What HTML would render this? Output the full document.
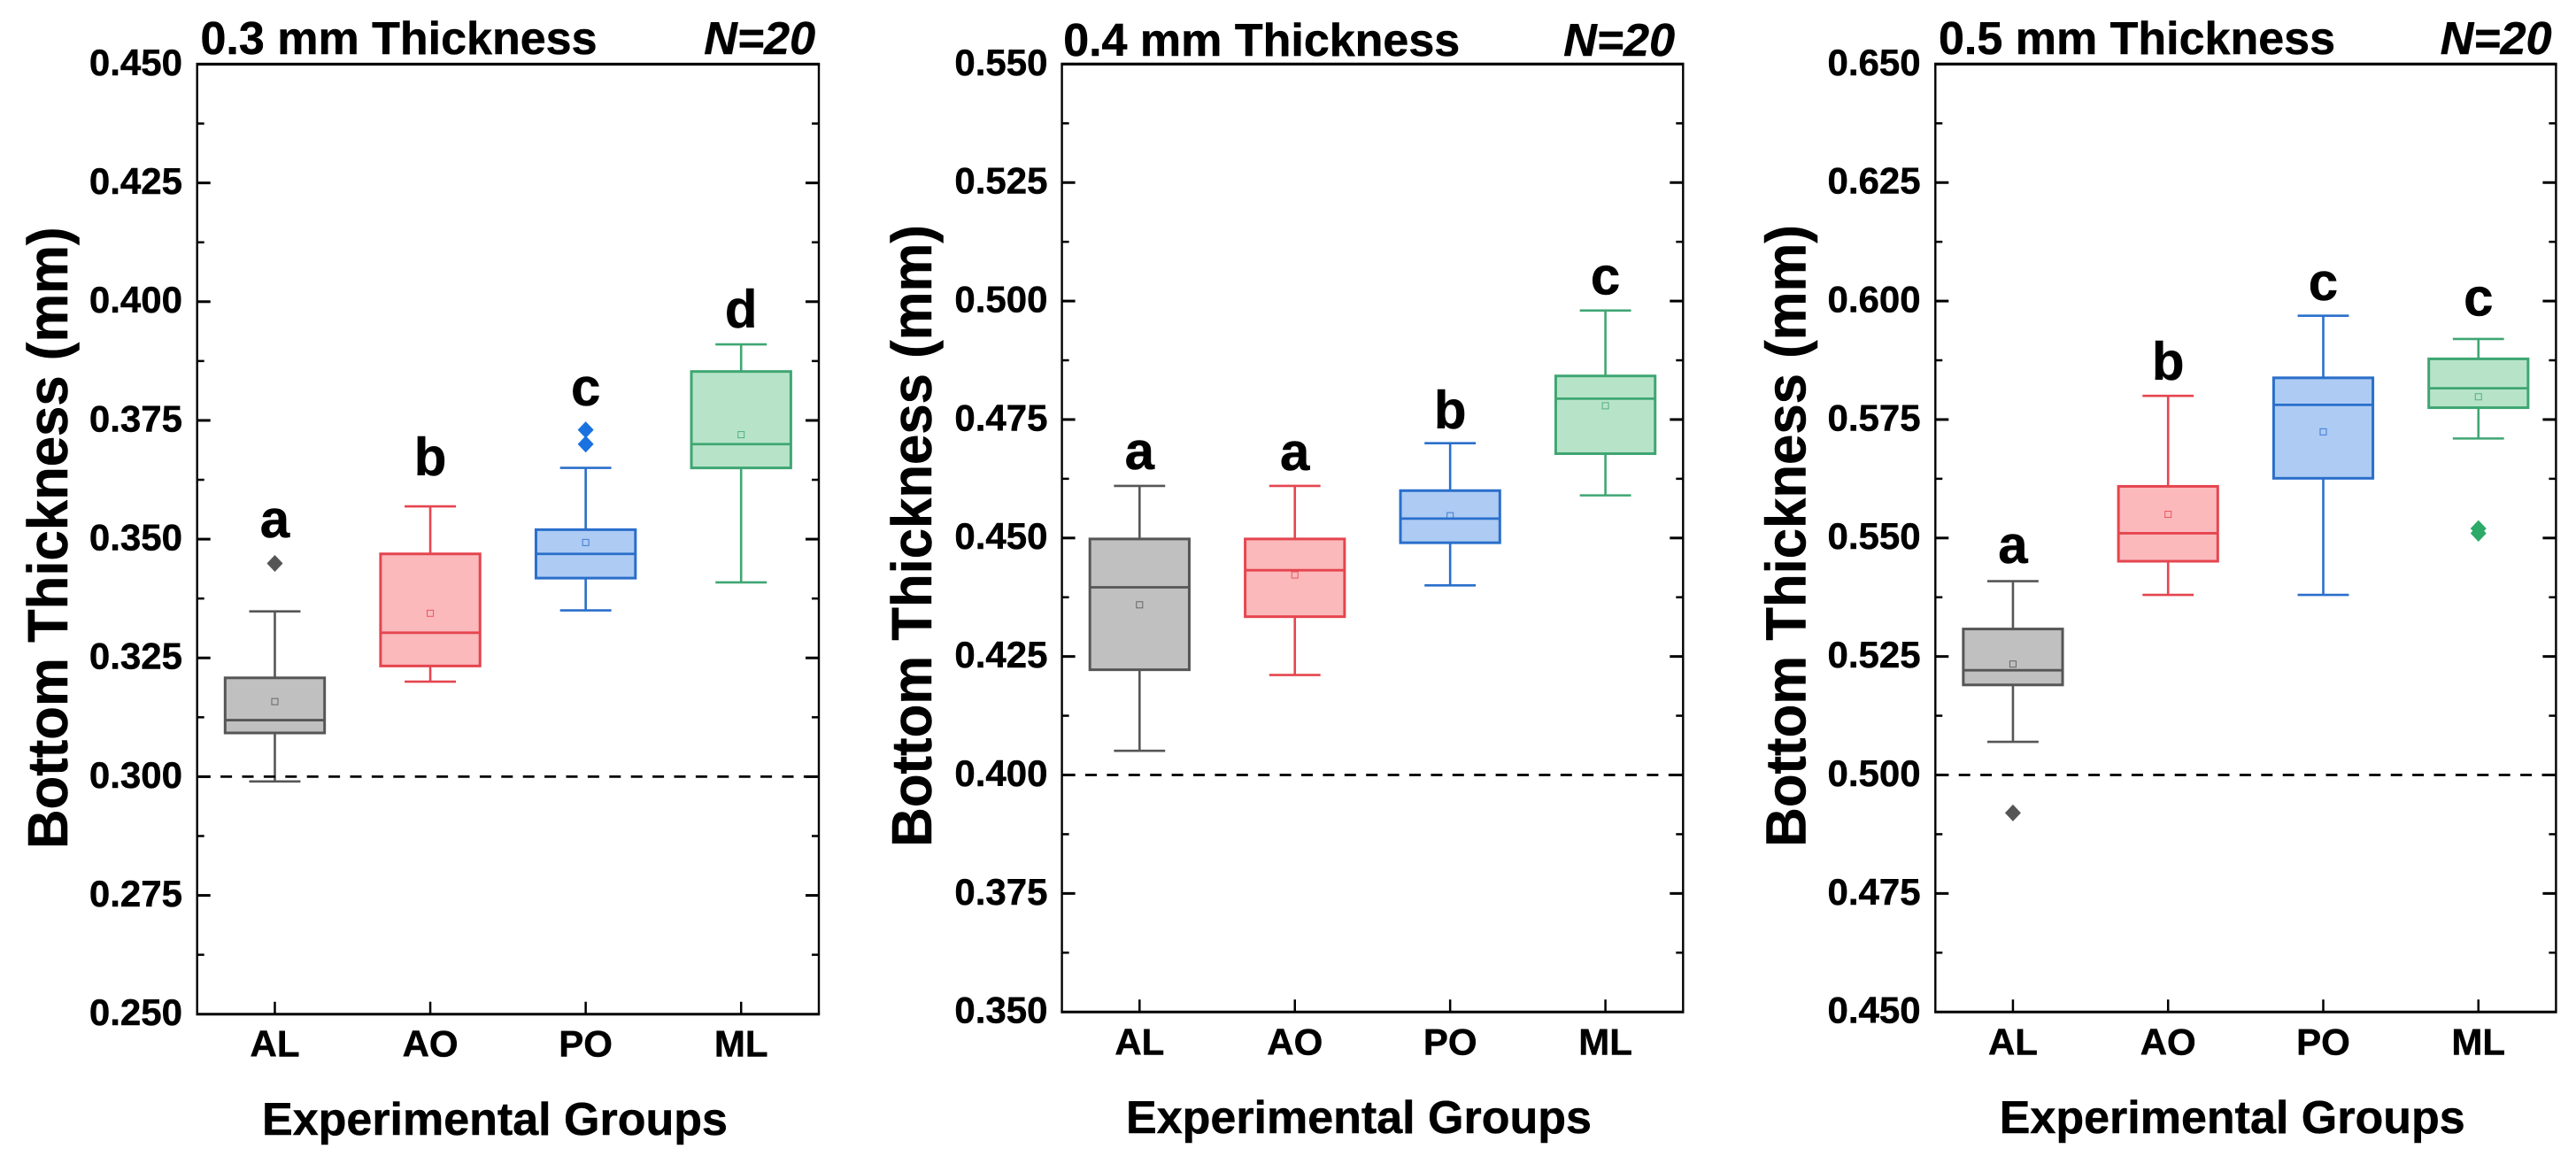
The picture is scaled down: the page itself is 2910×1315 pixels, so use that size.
<!DOCTYPE html>
<html>
<head>
<meta charset="utf-8">
<title>Bottom Thickness Box Plots</title>
<style>
html,body{margin:0;padding:0;background:#fff;width:2910px;height:1315px;overflow:hidden}
svg{display:block}
text{font-family:"Liberation Sans",Arial,sans-serif;font-weight:700;fill:#000;stroke:#000;stroke-width:0.5px}
</style>
</head>
<body>
<svg id="chart" xmlns="http://www.w3.org/2000/svg" width="2910" height="1315" viewBox="0 0 2910 1315"></svg>
<script>
const categories = ['AL', 'AO', 'PO', 'ML'];

const titles = ['0.3 mm Thickness', '0.4 mm Thickness', '0.5 mm Thickness'];
const sampleLabel = 'N=20';
const yAxisTitle = 'Bottom Thickness (mm)';
const xAxisTitle = 'Experimental Groups';

const p1Ticks = ['0.250', '0.275', '0.300', '0.325', '0.350', '0.375', '0.400', '0.425', '0.450'];
const p2Ticks = ['0.350', '0.375', '0.400', '0.425', '0.450', '0.475', '0.500', '0.525', '0.550'];
const p3Ticks = ['0.450', '0.475', '0.500', '0.525', '0.550', '0.575', '0.600', '0.625', '0.650'];

const thresholds = [0.3, 0.4, 0.5];

const p1WhiskerLow = [0.2990, 0.3200, 0.3350, 0.3409];
const p1Q1 = [0.3092, 0.3233, 0.3418, 0.3650];
const p1Median = [0.3119, 0.3303, 0.3469, 0.3700];
const p1Q3 = [0.3208, 0.3469, 0.3520, 0.3853];
const p1WhiskerHigh = [0.3348, 0.3569, 0.3650, 0.3910];
const p1Mean = [0.3158, 0.3344, 0.3493, 0.3720];
const p1Outliers = [[0.3449], [], [0.3700, 0.3730], []];
const p1Letters = ['a', 'b', 'c', 'd'];
const p1LetterValues = [0.3504, 0.3634, 0.3782, 0.3946];

const p2WhiskerLow = [0.4051, 0.4211, 0.4400, 0.4590];
const p2Q1 = [0.4222, 0.4334, 0.4490, 0.4678];
const p2Median = [0.4396, 0.4432, 0.4541, 0.4794];
const p2Q3 = [0.4498, 0.4498, 0.4600, 0.4842];
const p2WhiskerHigh = [0.4610, 0.4610, 0.4700, 0.4980];
const p2Mean = [0.4359, 0.4422, 0.4547, 0.4779];
const p2Outliers = [[], [], [], []];
const p2Letters = ['a', 'a', 'b', 'c'];
const p2LetterValues = [0.4645, 0.4643, 0.4731, 0.5014];

const p3WhiskerLow = [0.5070, 0.5380, 0.5380, 0.5710];
const p3Q1 = [0.5190, 0.5451, 0.5626, 0.5775];
const p3Median = [0.5221, 0.5510, 0.5781, 0.5816];
const p3Q3 = [0.5308, 0.5609, 0.5838, 0.5878];
const p3WhiskerHigh = [0.5409, 0.5800, 0.5969, 0.5920];
const p3Mean = [0.5234, 0.5550, 0.5724, 0.5798];
const p3Outliers = [[0.4920], [], [], [0.5510, 0.5520]];
const p3Letters = ['a', 'b', 'c', 'c'];
const p3LetterValues = [0.5447, 0.5834, 0.6002, 0.5969];

const strokeColors = ['#565656', '#e5454f', '#2a6fcb', '#3fa673'];
const fillColors = ['#c0c0c0', '#fbb9bc', '#adcbf3', '#b7e4c9'];
const outlierColors = ['#555555', '#e5454f', '#1a72e0', '#2eaa68'];

const seriesByPanel = [
  {ticks: p1Ticks, lo: p1WhiskerLow, q1: p1Q1, med: p1Median, q3: p1Q3, hi: p1WhiskerHigh, mean: p1Mean, out: p1Outliers, letters: p1Letters, letterVals: p1LetterValues},
  {ticks: p2Ticks, lo: p2WhiskerLow, q1: p2Q1, med: p2Median, q3: p2Q3, hi: p2WhiskerHigh, mean: p2Mean, out: p2Outliers, letters: p2Letters, letterVals: p2LetterValues},
  {ticks: p3Ticks, lo: p3WhiskerLow, q1: p3Q1, med: p3Median, q3: p3Q3, hi: p3WhiskerHigh, mean: p3Mean, out: p3Outliers, letters: p3Letters, letterVals: p3LetterValues}
];

const layouts = [
  {left: 222.7, right: 925, top: 72.5, bottom: 1145.7, labelRight: 206, titleX: 226.5, titleY: 61, nRight: 921, yTitleX: 76, yTitleY: 959, xTickY: 1193.7, xTitleX: 559, xTitleY: 1282},
  {left: 1199.6, right: 1901.3, top: 72.4, bottom: 1143.2, labelRight: 1183.5, titleX: 1201.2, titleY: 63, nRight: 1892, yTitleX: 1052.2, yTitleY: 956.7, xTickY: 1191.6, xTitleX: 1535, xTitleY: 1280},
  {left: 2186.3, right: 2887.4, top: 72.4, bottom: 1143.2, labelRight: 2169.6, titleX: 2190, titleY: 61, nRight: 2882.5, yTitleX: 2039.6, yTitleY: 956.7, xTickY: 1191.6, xTitleX: 2521.7, xTitleY: 1280}
];

const SVG_NS = 'http://www.w3.org/2000/svg';
const root = document.getElementById('chart');

function mk(parent, tag, attrs, txt) {
  const e = document.createElementNS(SVG_NS, tag);
  for (const k in attrs) e.setAttribute(k, attrs[k]);
  if (txt !== undefined) e.textContent = txt;
  parent.appendChild(e);
  return e;
}

seriesByPanel.forEach(function (s, pi) {
  const L = layouts[pi];
  const pid = 'panel-' + (pi + 1);
  const yMin = parseFloat(s.ticks[0]);
  const yMax = parseFloat(s.ticks[s.ticks.length - 1]);
  const yScale = function (v) { return L.bottom - (v - yMin) / (yMax - yMin) * (L.bottom - L.top); };
  const xScale = function (i) { return L.left + (i + 0.5) / categories.length * (L.right - L.left); };
  const unit = (L.right - L.left) / categories.length;
  const boxW = unit * 0.64;
  const capW = unit * 0.33;

  const g = mk(root, 'g', {});
  
  

  const t = mk(g, 'text', {x: L.titleX, y: L.titleY, 'font-size': 52}, titles[pi]);
  
  

  const n = mk(g, 'text', {x: L.nRight, y: L.titleY, 'font-size': 52, 'font-style': 'italic', 'text-anchor': 'end'}, sampleLabel);
  
  

  const yt = mk(g, 'text', {transform: 'translate(' + L.yTitleX + ',' + L.yTitleY + ') rotate(-90) scale(0.964,1)', 'font-size': 64}, yAxisTitle);
  
  

  const xt = mk(g, 'text', {x: L.xTitleX, y: L.xTitleY, 'font-size': 52, 'text-anchor': 'middle'}, xAxisTitle);
  
  

  s.ticks.forEach(function (label, i) {
    const v = parseFloat(label);
    const y = yScale(v);
    const tl = mk(g, 'text', {x: L.labelRight, y: y + 12.4, 'font-size': 42, 'text-anchor': 'end'}, label);
    
    
    if (i > 0 && i < s.ticks.length - 1) {
      const a = mk(g, 'line', {x1: L.left, x2: L.left + 15, y1: y, y2: y, stroke: '#000', 'stroke-width': 3});
      
      
      const b = mk(g, 'line', {x1: L.right - 15, x2: L.right, y1: y, y2: y, stroke: '#000', 'stroke-width': 3});
      
      
    }
    if (i < s.ticks.length - 1) {
      const my = yScale((v + parseFloat(s.ticks[i + 1])) / 2);
      const c = mk(g, 'line', {x1: L.left, x2: L.left + 8, y1: my, y2: my, stroke: '#000', 'stroke-width': 2.5});
      
      
      const d = mk(g, 'line', {x1: L.right - 8, x2: L.right, y1: my, y2: my, stroke: '#000', 'stroke-width': 2.5});
      
      
    }
  });

  categories.forEach(function (cat, i) {
    const cx = xScale(i);
    const name = pid + '-' + cat.toLowerCase();
    const tick = mk(g, 'line', {x1: cx, x2: cx, y1: L.bottom - 14, y2: L.bottom, stroke: '#000', 'stroke-width': 2.5});
    
    
    const lab = mk(g, 'text', {x: cx, y: L.xTickY, 'font-size': 42, 'text-anchor': 'middle'}, cat);
    
    

    const col = strokeColors[i];
    const whisk = mk(g, 'line', {x1: cx, x2: cx, y1: yScale(s.lo[i]), y2: yScale(s.hi[i]), stroke: col, 'stroke-width': 2.6});
    
    
    const capH = mk(g, 'line', {x1: cx - capW / 2, x2: cx + capW / 2, y1: yScale(s.hi[i]), y2: yScale(s.hi[i]), stroke: col, 'stroke-width': 2.6});
    
    
    const capL = mk(g, 'line', {x1: cx - capW / 2, x2: cx + capW / 2, y1: yScale(s.lo[i]), y2: yScale(s.lo[i]), stroke: col, 'stroke-width': 2.6});
    
    

    const box = mk(g, 'rect', {x: cx - boxW / 2, y: yScale(s.q3[i]), width: boxW, height: yScale(s.q1[i]) - yScale(s.q3[i]), fill: fillColors[i], stroke: col, 'stroke-width': 3});
    
    
    const med = mk(g, 'line', {x1: cx - boxW / 2, x2: cx + boxW / 2, y1: yScale(s.med[i]), y2: yScale(s.med[i]), stroke: col, 'stroke-width': 2.8});
    
    
    const mean = mk(g, 'rect', {x: cx - 3.5, y: yScale(s.mean[i]) - 3.5, width: 7, height: 7, fill: 'none', stroke: col, 'stroke-width': 1, opacity: 0.85});
    
    

    s.out[i].forEach(function (v) {
      const oy = yScale(v);
      const d = mk(g, 'polygon', {points: [cx, oy - 9.5, cx + 9, oy, cx, oy + 9.5, cx - 9, oy].join(' '), fill: outlierColors[i]});
      
      
    });

    const sig = mk(g, 'text', {x: cx, y: yScale(s.letterVals[i]), 'font-size': 60, 'text-anchor': 'middle'}, s.letters[i]);
    
    
  });

  const dash = mk(g, 'line', {x1: L.left, x2: L.right, y1: yScale(thresholds[pi]), y2: yScale(thresholds[pi]), stroke: '#000', 'stroke-width': 2.8, 'stroke-dasharray': '13 11.4', 'stroke-dashoffset': -2});
  
  

  const frameTop = mk(g, 'line', {x1: L.left - 1.2, x2: L.right + 1.2, y1: L.top, y2: L.top, stroke: '#000', 'stroke-width': 3.2});
  
  
  const frameBottom = mk(g, 'line', {x1: L.left - 1.2, x2: L.right + 1.2, y1: L.bottom, y2: L.bottom, stroke: '#000', 'stroke-width': 3});
  
  
  const frameLeft = mk(g, 'line', {x1: L.left, x2: L.left, y1: L.top, y2: L.bottom, stroke: '#000', 'stroke-width': 2.4});
  
  
  const frameRight = mk(g, 'line', {x1: L.right, x2: L.right, y1: L.top, y2: L.bottom, stroke: '#000', 'stroke-width': 2.4});
  
  
});
</script>
</body>
</html>
